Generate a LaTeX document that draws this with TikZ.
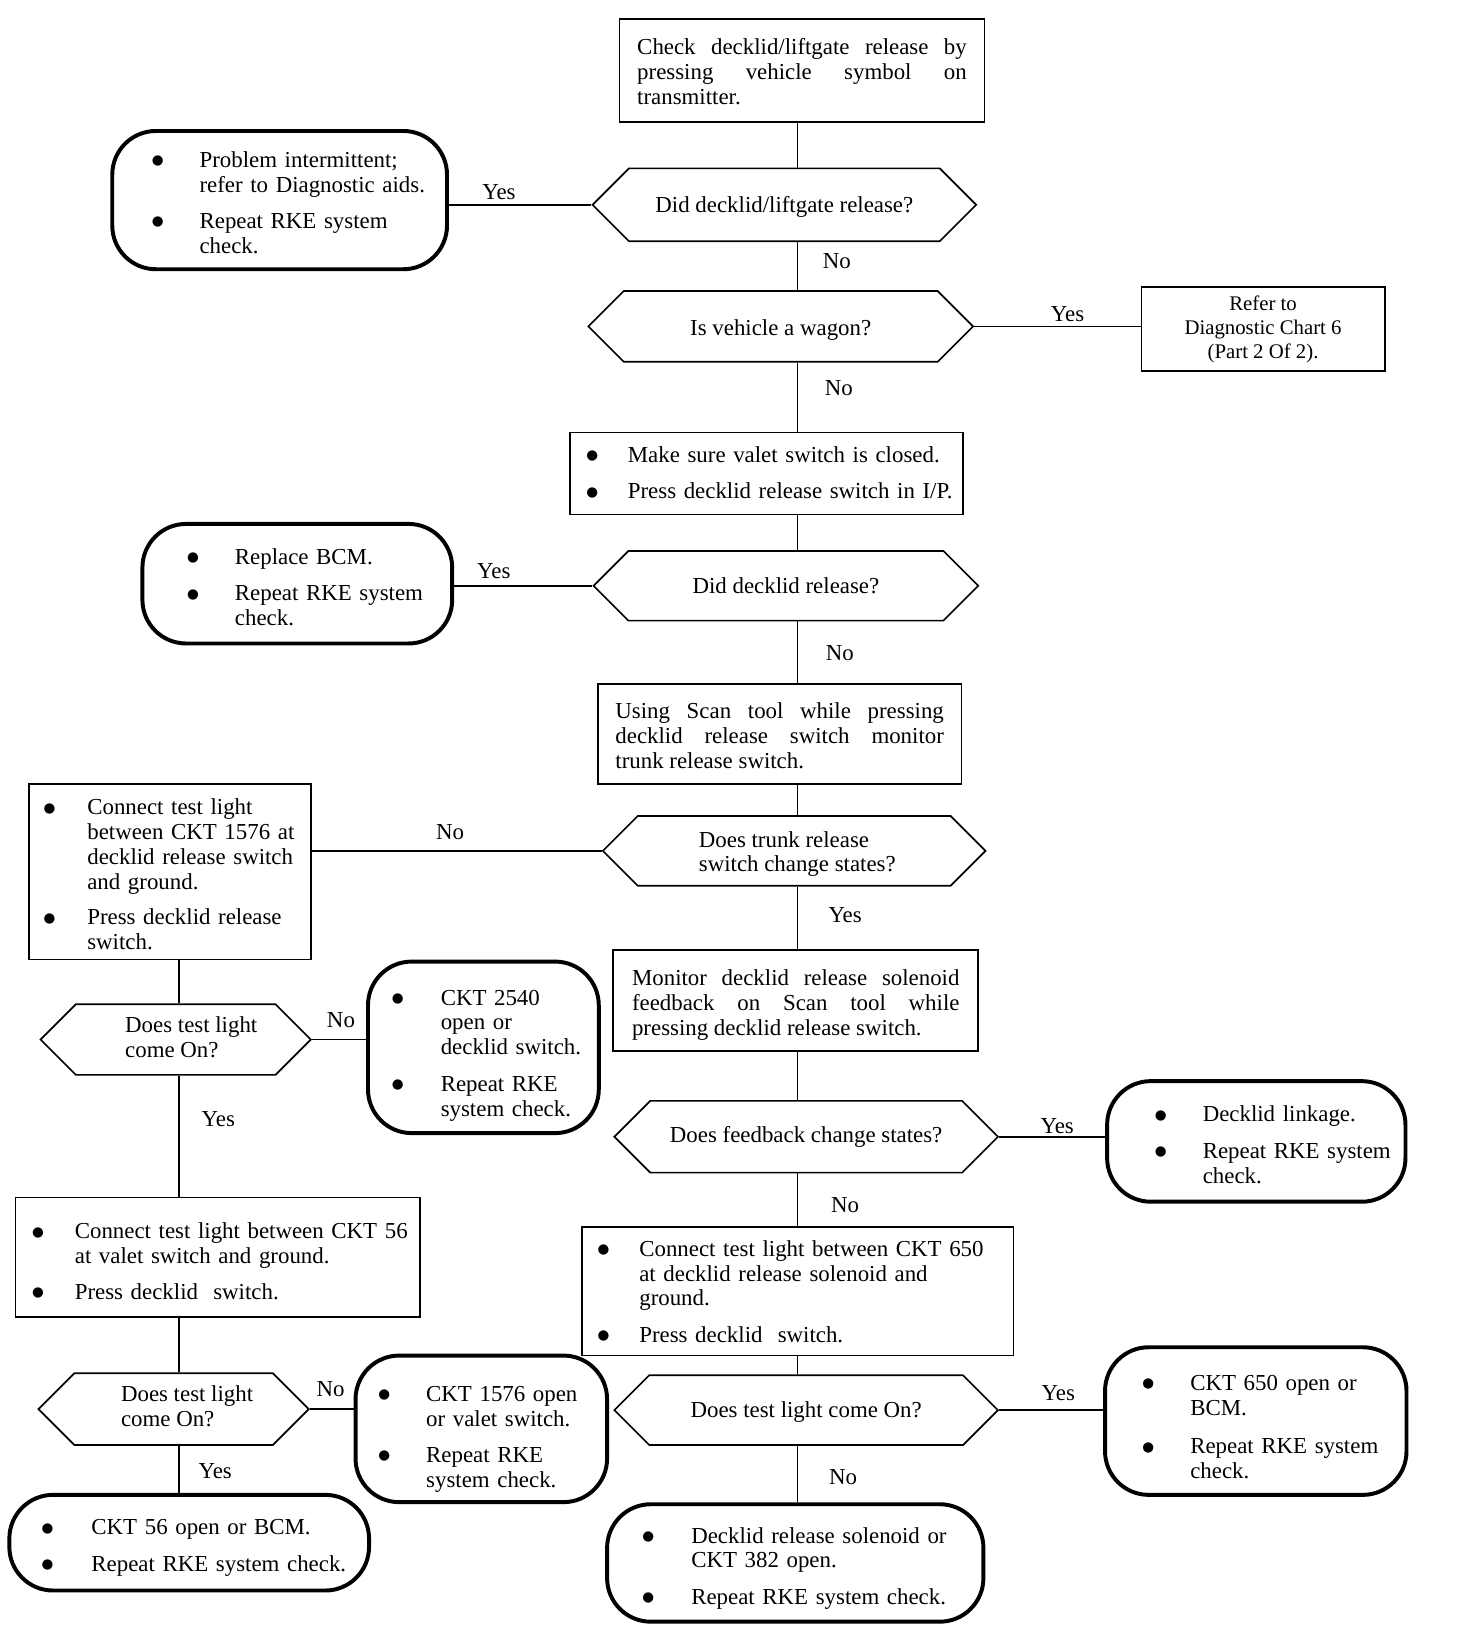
\documentclass[tikz,border=0pt]{standalone}
\usepackage{fontspec}
\setmainfont{Liberation Serif}
\newfontfamily\dejavu{DejaVu Sans}
\usetikzlibrary{shapes.symbols}
\newcommand\bdot{\raisebox{2.5pt}{\dejavu\fontsize{13}{13}\selectfont ●}}
\newcommand\blist[3]{\raisebox{-#1pt}[\height][\depth]{\begin{tabular}{@{}p{#2}@{}l@{}}#3\end{tabular}}}
\newcommand\jpar[3]{\raisebox{-#1pt}[\height][\depth]{\parbox{#2}{#3}}}
\hyphenpenalty=10000
\begin{document}
\begin{tikzpicture}[x=1pt,y=-1pt,
  font=\fontsize{22}{24}\selectfont,
  boxn/.style={draw, line width=1.7pt, rectangle, inner ysep=0pt},
  termn/.style={draw, line width=3.8pt, rectangle, rounded corners=42pt, inner ysep=0pt, align=left},
  hexn/.style={draw, line width=1.6pt, shape=signal, signal to=east and west, signal pointer angle=90, inner sep=0pt, align=left},
  conn/.style={line width=1.6pt},
  lbl/.style={inner sep=0pt}]
\fill[white] (0,0) rectangle (1401,1568);
\useasboundingbox (0,0) rectangle (1401,1568);
\coordinate (mc) at (767,0);
\coordinate (lc) at (172,0);

% main column
\node[boxn, minimum width=351pt, minimum height=99pt, inner xsep=0pt] (B1) at (771.5,67.5)
  {\jpar{1.5}{317pt}{Check decklid/liftgate release by\linebreak pressing vehicle symbol on\linebreak transmitter.}};
\node[hexn, minimum width=369pt, minimum height=70pt] (D1) at (754.5,197) {\raisebox{-2pt}[\height][\depth]{Did decklid/liftgate release?}};
\node[termn, minimum width=322pt, minimum height=133pt, text width=246pt, inner xsep=38pt] (T1) at (269,192.5)
  {\blist{5}{46pt}{\bdot & Problem intermittent;\\ & refer to Diagnostic aids.\\[11pt] \bdot & Repeat RKE system\\ & check.}};
\node[hexn, minimum width=370pt, minimum height=68pt] (D2) at (751,314) {\raisebox{-3pt}[\height][\depth]{Is vehicle a wagon?}};
\node[boxn, minimum width=234pt, minimum height=81pt, align=center, font=\fontsize{20}{23}\selectfont] (R1) at (1215,316.5)
  {Refer to\\Diagnostic Chart 6\\(Part 2 Of 2).};
\node[boxn, minimum width=378pt, minimum height=79pt, text width=346pt, inner xsep=16pt, align=left] (B2) at (737,455.5)
  {\blist{2}{40pt}{\bdot & Make sure valet switch is closed.\\[11pt] \bdot & Press decklid release switch in I/P.}};
\node[hexn, minimum width=370pt, minimum height=67pt] (D3) at (756,563.5) {Did decklid release?};
\node[termn, minimum width=298pt, minimum height=115pt, text width=212pt, inner xsep=43pt] (T2) at (286,561.5)
  {\blist{6}{46pt}{\bdot & Replace BCM.\\[11pt] \bdot & Repeat RKE system\\ & check.}};
\node[boxn, minimum width=350pt, minimum height=96pt, inner xsep=0pt] (B3) at (750,706)
  {\jpar{2}{316pt}{Using Scan tool while pressing\linebreak decklid release switch monitor\linebreak trunk release switch.}};
\node[hexn, minimum width=368pt, minimum height=67pt] (D4) at (764,818.5)
  {\raisebox{-3.5pt}[\height][\depth]{\begin{tabular}{@{\hspace{6pt}}l@{}}Does trunk release\\switch change states?\end{tabular}}};
\node[boxn, minimum width=271pt, minimum height=169pt, text width=243pt, inner xsep=14pt, align=left] (B4) at (163.5,838.5)
  {\blist{5.5}{42pt}{\bdot & Connect test light\\ & between CKT 1576 at\\ & decklid release switch\\ & and ground.\\[10pt] \bdot & Press decklid release\\ & switch.}};
\node[boxn, minimum width=351pt, minimum height=97pt, inner xsep=0pt] (B5) at (765.5,962.5)
  {\jpar{4}{315pt}{Monitor decklid release solenoid\linebreak feedback on Scan tool while\linebreak pressing decklid release switch.}};
\node[hexn, minimum width=369pt, minimum height=69pt] (D5) at (775.5,1093.5) {Does feedback change states?};
\node[termn, minimum width=287pt, minimum height=116pt, text width=195pt, inner xsep=46pt] (T3) at (1208.5,1098)
  {\blist{6}{46pt}{\bdot & Decklid linkage.\\[11pt] \bdot & Repeat RKE system\\ & check.}};
\node[boxn, minimum width=415pt, minimum height=124pt, text width=385pt, inner xsep=15pt, align=left] (B6) at (767.5,1242)
  {\blist{3}{40pt}{\bdot & Connect test light between CKT 650\\ & at decklid release solenoid and\\ & ground.\\[11pt] \bdot & Press decklid\ \ switch.}};
\node[hexn, minimum width=369pt, minimum height=67pt] (D6) at (775.5,1356.5) {\raisebox{-2pt}[\height][\depth]{Does test light come On?}};
\node[termn, minimum width=290pt, minimum height=142pt, text width=218pt, inner xsep=36pt] (T4) at (1208,1367)
  {\blist{8}{46pt}{\bdot & CKT 650 open or\\ & BCM.\\[13pt] \bdot & Repeat RKE system\\ & check.}};
\node[termn, minimum width=362pt, minimum height=113pt, text width=294pt, inner xsep=34pt] (T5) at (765,1503.5)
  {\blist{5.5}{47pt}{\bdot & Decklid release solenoid or\\ & CKT 382 open.\\[11pt] \bdot & Repeat RKE system check.}};

% left column
\node[hexn, minimum width=260pt, minimum height=68pt] (D7) at (169,1000)
  {\begin{tabular}{@{\hspace{30pt}}l@{}}Does test light\\come On?\end{tabular}};
\node[termn, minimum width=222pt, minimum height=165pt, text width=176pt, inner xsep=23pt] (T6) at (465,1007.5)
  {\blist{8}{47pt}{\bdot & CKT 2540\\ & open or\\ & decklid switch.\\[11pt] \bdot & Repeat RKE\\ & system check.}};
\node[boxn, minimum width=389pt, minimum height=115pt, text width=357pt, inner xsep=16pt, align=left] (B7) at (209.5,1209.5)
  {\blist{6.5}{41pt}{\bdot & Connect test light between CKT 56\\ & at valet switch and ground.\\[10pt] \bdot & Press decklid\ \ switch.}};
\node[hexn, minimum width=260pt, minimum height=69pt] (D8) at (167,1355.5)
  {\begin{tabular}{@{\hspace{26pt}}l@{}}Does test light\\come On?\end{tabular}};
\node[termn, minimum width=242pt, minimum height=141pt, text width=198pt, inner xsep=22pt] (T7) at (463,1374.5)
  {\blist{10}{46pt}{\bdot & CKT 1576 open\\ & or valet switch.\\[11pt] \bdot & Repeat RKE\\ & system check.}};
\node[termn, minimum width=346pt, minimum height=92pt, text width=284pt, inner xsep=31pt] (T8) at (182,1484)
  {\blist{5}{48pt}{\bdot & CKT 56 open or BCM.\\[11pt] \bdot & Repeat RKE system check.}};

% vertical connectors
\draw[conn] (B1.south -| mc) -- (D1.north -| mc);
\draw[conn] (D1.south -| mc) -- (D2.north -| mc);
\draw[conn] (D2.south -| mc) -- (B2.north -| mc);
\draw[conn] (B2.south -| mc) -- (D3.north -| mc);
\draw[conn] (D3.south -| mc) -- (B3.north -| mc);
\draw[conn] (B3.south -| mc) -- (D4.north -| mc);
\draw[conn] (D4.south -| mc) -- (B5.north -| mc);
\draw[conn] (B5.south -| mc) -- (D5.north -| mc);
\draw[conn] (D5.south -| mc) -- (B6.north -| mc);
\draw[conn] (B6.south -| mc) -- (D6.north -| mc);
\draw[conn] (D6.south -| mc) -- (T5.north -| mc);
\draw[conn] (B4.south -| lc) -- (D7.north -| lc);
\draw[conn] (D7.south -| lc) -- (B7.north -| lc);
\draw[conn] (B7.south -| lc) -- (D8.north -| lc);
\draw[conn] (D8.south -| lc) -- (T8.north -| lc);

% horizontal connectors
\draw[conn] (T1.east |- D1.west) -- (D1.west);
\draw[conn] (D2.east) -- (R1.west |- D2.east);
\draw[conn] (T2.east |- D3.west) -- (D3.west);
\draw[conn] (B4.east |- D4.west) -- (D4.west);
\draw[conn] (D5.east) -- (T3.west |- D5.east);
\draw[conn] (D6.east) -- (T4.west |- D6.east);
\draw[conn] (D7.east) -- (T6.west |- D7.east);
\draw[conn] (D8.east) -- (T7.west |- D8.east);

% labels
\node[lbl] (L1) at (480,185) {Yes};
\node[lbl] (L2) at (805,251) {No};
\node[lbl] (L3) at (1027,302) {Yes};
\node[lbl] (L4) at (807,373) {No};
\node[lbl] (L5) at (475,549) {Yes};
\node[lbl] (L6) at (808,628) {No};
\node[lbl] (L7) at (433,800) {No};
\node[lbl] (L8) at (813,880) {Yes};
\node[lbl] (L9) at (1017,1083) {Yes};
\node[lbl] (L10) at (813,1159) {No};
\node[lbl] (L11) at (1018,1340) {Yes};
\node[lbl] (L12) at (811,1421) {No};
\node[lbl] (L13) at (328,981) {No};
\node[lbl] (L14) at (210,1077) {Yes};
\node[lbl] (L15) at (318,1336) {No};
\node[lbl] (L16) at (207,1415) {Yes};
\end{tikzpicture}
\end{document}
